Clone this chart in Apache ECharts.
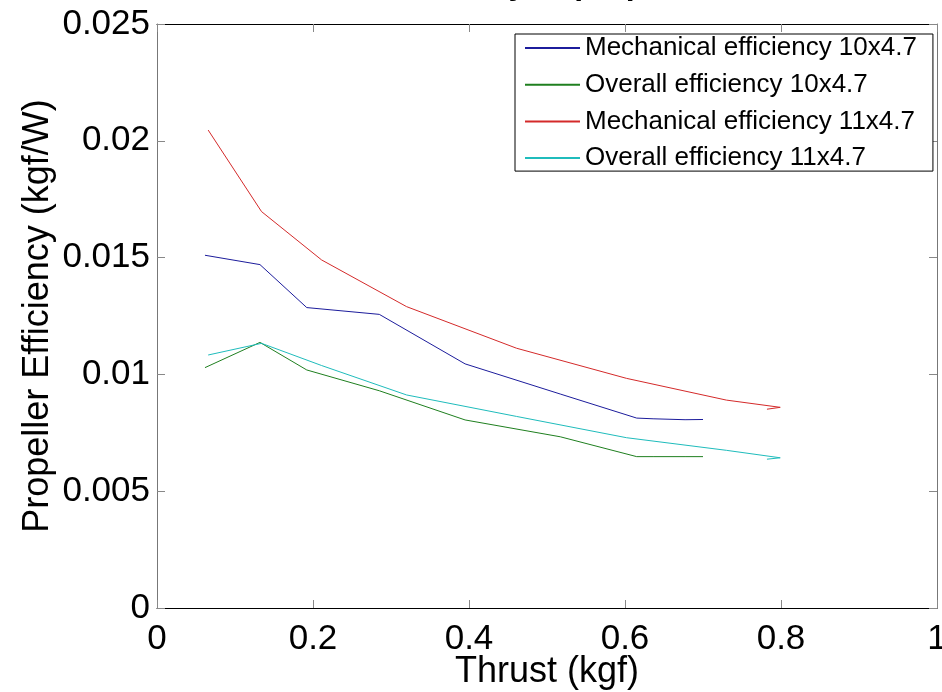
<!DOCTYPE html>
<html>
<head>
<meta charset="utf-8">
<script src="https://cdn.jsdelivr.net/npm/echarts@6/dist/echarts.min.js"></script>
<style>
html,body{margin:0;padding:0;background:#fff;}
#chart{width:942px;height:692px;}
</style>
</head>
<body>
<div id="chart"></div>
<script>
// ---- data ----
var titleText = 'Efficiency of propellers';
var xName = 'Thrust (kgf)';
var yName = 'Propeller Efficiency (kgf/W)';
var seriesNames = ['Mechanical efficiency 10x4.7', 'Overall efficiency 10x4.7', 'Mechanical efficiency 11x4.7', 'Overall efficiency 11x4.7'];

var thrust10   = [0.0615, 0.132, 0.192, 0.285, 0.395, 0.517, 0.615, 0.636, 0.677, 0.700];
var mech10     = [0.0151, 0.0147, 0.01286, 0.01257, 0.01045, 0.00916, 0.00813, 0.0081, 0.00806, 0.00807];
var overall10  = [0.01029, 0.01137, 0.01019, 0.0093, 0.00805, 0.00733, 0.00648, 0.00648, 0.00648, 0.00648];

var thrust11   = [0.0656, 0.134, 0.211, 0.320, 0.461, 0.602, 0.730, 0.799, 0.782];
var mech11     = [0.02046, 0.01697, 0.0149, 0.0129, 0.01112, 0.00983, 0.0089, 0.00859, 0.00851];
var overall11  = [0.01083, 0.01133, 0.01038, 0.00912, 0.0082, 0.00729, 0.00675, 0.00643, 0.00637];

var xTicks = [0, 0.2, 0.4, 0.6, 0.8, 1];
var yTicks = [0, 0.005, 0.01, 0.015, 0.02, 0.025];

var colors = ['#1c1c9c', '#1f7f1f', '#d42a2a', '#1fbcbc'];

function pairs(xs, ys) { return xs.map(function (x, i) { return [x, ys[i]]; }); }

var font = '"Liberation Sans", Arial, sans-serif';
var chart = echarts.init(document.getElementById('chart'), null, {renderer: 'canvas'});

function mkSeries(name, data, color) {
  return {
    name: name, type: 'line', data: data, showSymbol: false, symbol: 'none',
    lineStyle: {color: color, width: 1}, itemStyle: {color: color},
    xAxisIndex: 0, yAxisIndex: 0, animation: false
  };
}

var option = {
  animation: false,
  backgroundColor: '#ffffff',
  title: {
    text: titleText, left: 547, textAlign: 'center', top: -36,
    textStyle: {fontFamily: font, fontSize: 32, fontWeight: 'bold', color: '#000'}
  },
  grid: {left: 157, right: 5, top: 24, bottom: 84, containLabel: false, outerBoundsMode: 'none'},
  legend: {
    orient: 'vertical', left: 515, top: 34,
    itemWidth: 55, itemHeight: 2, itemGap: 10.7,
    icon: 'rect',
    padding: [1, 16, 0, 10],
    backgroundColor: '#fff', borderColor: '#000', borderWidth: 1,
    textStyle: {fontFamily: font, fontSize: 26, color: '#000', lineHeight: 26},
    data: seriesNames.map(function (n, i) { return {name: n, itemStyle: {color: colors[i]}}; })
  },
  xAxis: [{
    type: 'value', min: 0, max: 1, interval: 0.2,
    name: xName, nameLocation: 'middle', nameGap: 46, nameMoveOverlap: false,
    nameTextStyle: {fontFamily: font, fontSize: 36, color: '#000'},
    axisLine: {show: true, onZero: false, lineStyle: {color: '#000', width: 1}},
    axisTick: {show: true, inside: true, length: 8, lineStyle: {color: '#888'}},
    axisLabel: {fontFamily: font, fontSize: 35, color: '#000', margin: 14,
      formatter: function (v) { return String(+v.toFixed(3)); }},
    splitLine: {show: false}
  }, {
    type: 'value', position: 'top', min: 0, max: 1, interval: 0.2,
    axisLine: {show: true, onZero: false, lineStyle: {color: '#000', width: 1}},
    axisTick: {show: true, inside: true, length: 8, lineStyle: {color: '#888'}},
    axisLabel: {show: false}, splitLine: {show: false}
  }],
  yAxis: [{
    type: 'value', min: 0, max: 0.025, interval: 0.005,
    name: yName, nameLocation: 'middle', nameGap: 101, nameMoveOverlap: false,
    nameTextStyle: {fontFamily: font, fontSize: 36, color: '#000'},
    axisLine: {show: true, onZero: false, lineStyle: {color: '#777', width: 1}},
    axisTick: {show: true, inside: true, length: 8, lineStyle: {color: '#888'}},
    axisLabel: {fontFamily: font, fontSize: 35, color: '#000', margin: 7,
      formatter: function (v) { return String(+v.toFixed(4)); }},
    splitLine: {show: false}
  }, {
    type: 'value', position: 'right', min: 0, max: 0.025, interval: 0.005,
    axisLine: {show: true, onZero: false, lineStyle: {color: '#777', width: 1}},
    axisTick: {show: true, inside: true, length: 8, lineStyle: {color: '#888'}},
    axisLabel: {show: false}, splitLine: {show: false}
  }],
  series: [
    mkSeries(seriesNames[0], pairs(thrust10, mech10), colors[0]),
    mkSeries(seriesNames[1], pairs(thrust10, overall10), colors[1]),
    mkSeries(seriesNames[2], pairs(thrust11, mech11), colors[2]),
    mkSeries(seriesNames[3], pairs(thrust11, overall11), colors[3])
  ]
};
chart.setOption(option);
</script>
</body>
</html>
